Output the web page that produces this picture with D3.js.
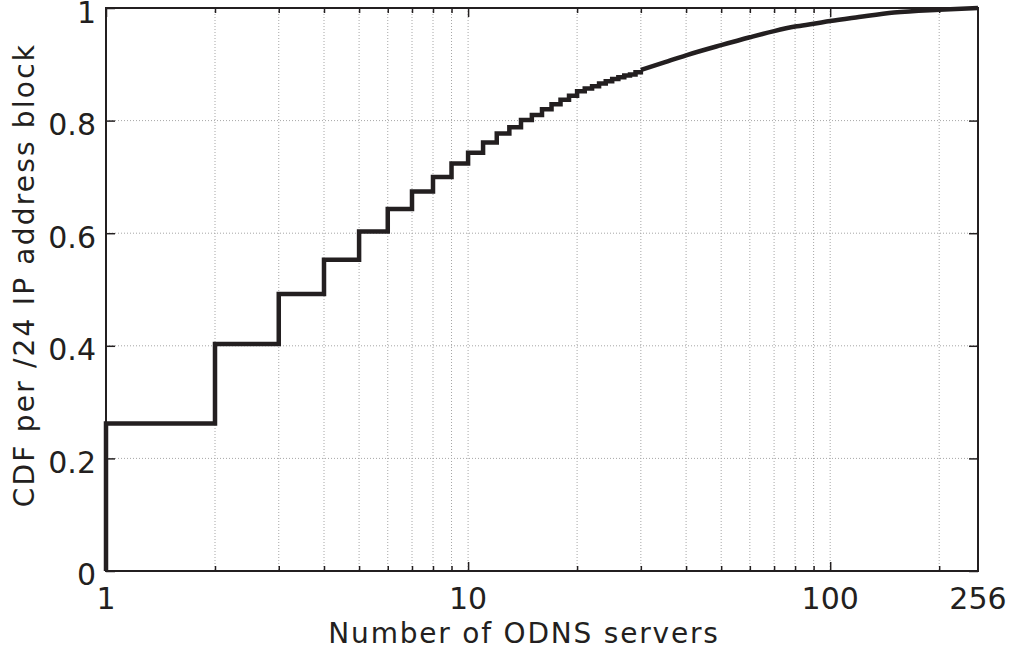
<!DOCTYPE html>
<html>
<head>
<meta charset="utf-8">
<script src="https://cdn.jsdelivr.net/npm/d3@7"></script>
<style>
  html, body { margin: 0; padding: 0; background: #fff; }
  svg { display: block; }
  text { font-family: "DejaVu Sans", sans-serif; fill: #231f20; }
</style>
</head>
<body>
<svg id="chart" width="1011" height="650"></svg>
<script>
// Empirical CDF of ODNS servers per /24 block: integer steps, then the dense tail
const stepServers = [1, 2, 3, 4, 5, 6, 7, 8, 9, 10, 11, 12, 13, 14, 15, 16, 17, 18, 19, 20,
                     21, 22, 23, 24, 25, 26, 27, 28, 29, 30];
const stepCdf = [0.262, 0.403, 0.492, 0.553, 0.603, 0.643, 0.674, 0.700, 0.724, 0.743,
                 0.761, 0.777, 0.788, 0.801, 0.810, 0.820, 0.829, 0.837, 0.844, 0.852,
                 0.857, 0.861, 0.866, 0.870, 0.874, 0.877, 0.880, 0.882, 0.886, 0.890];
const tailServers = [30, 35, 40, 50, 60, 70, 80, 90, 100, 120, 150, 200, 256];
const tailCdf = [0.890, 0.904, 0.916, 0.934, 0.948, 0.959, 0.967, 0.972, 0.977, 0.984, 0.992, 0.997, 1.0];

const xTickValues = [1, 10, 100, 256];
const xMinorValues = [2, 3, 4, 5, 6, 7, 8, 9, 20, 30, 40, 50, 60, 70, 80, 90, 200];
const yTickValues = [0, 0.2, 0.4, 0.6, 0.8, 1];
const yTickLabels = ["0", "0.2", "0.4", "0.6", "0.8", "1"];

const ink = "#231f20";
const svg = d3.select("#chart");
const plotL = 106, plotR = 978, plotT = 8, plotB = 571;
const w = plotR - plotL, h = plotB - plotT;

const x = d3.scaleLog().domain([1, 256]).range([plotL, plotR]);
const y = d3.scaleLinear().domain([0, 1]).range([plotB, plotT]);

// dotted grid
const gridX = [...xMinorValues, 10, 100];
svg.append("g").attr("class", "grid-x")
  .selectAll("line").data(gridX).join("line")
  .attr("x1", d => x(d)).attr("x2", d => x(d))
  .attr("y1", plotT).attr("y2", plotB)
  .attr("stroke", "#a6a6a6").attr("stroke-width", 1)
  .attr("stroke-dasharray", "1,2");
svg.append("g").attr("class", "grid-y")
  .selectAll("line").data(yTickValues.filter(d => d > 0 && d < 1)).join("line")
  .attr("x1", plotL).attr("x2", plotR)
  .attr("y1", d => y(d)).attr("y2", d => y(d))
  .attr("stroke", "#a6a6a6").attr("stroke-width", 1)
  .attr("stroke-dasharray", "1,2");

// inward ticks on all four sides
function styleAxis(g) {
  g.select(".domain").remove();
  g.selectAll(".tick line").attr("stroke", ink).attr("stroke-width", 1.5);
  g.selectAll("text").remove();
}
svg.append("g").attr("transform", `translate(0,${plotB})`)
  .call(d3.axisBottom(x).tickValues([1, 10, 100]).tickSize(-9)).call(styleAxis);
svg.append("g").attr("transform", `translate(0,${plotB})`)
  .call(d3.axisBottom(x).tickValues(xMinorValues).tickSize(-5)).call(styleAxis);
svg.append("g").attr("transform", `translate(0,${plotT})`)
  .call(d3.axisTop(x).tickValues([1, 10, 100]).tickSize(-9)).call(styleAxis);
svg.append("g").attr("transform", `translate(0,${plotT})`)
  .call(d3.axisTop(x).tickValues(xMinorValues).tickSize(-5)).call(styleAxis);
svg.append("g").attr("transform", `translate(${plotL},0)`)
  .call(d3.axisLeft(y).tickValues(yTickValues).tickSize(-9)).call(styleAxis);
svg.append("g").attr("transform", `translate(${plotR},0)`)
  .call(d3.axisRight(y).tickValues(yTickValues).tickSize(-9)).call(styleAxis);

// frame
svg.append("rect").attr("x", plotL).attr("y", plotT).attr("width", w).attr("height", h)
  .attr("fill", "none").attr("stroke", ink).attr("stroke-width", 2);

// CDF curve
const stepPts = [[1, 0]].concat(stepServers.map((s, i) => [s, stepCdf[i]]));
const tailPts = tailServers.map((s, i) => [s, tailCdf[i]]);
svg.append("path").datum(stepPts)
  .attr("d", d3.line().x(d => x(d[0])).y(d => y(d[1])).curve(d3.curveStepAfter))
  .attr("fill", "none").attr("stroke", ink).attr("stroke-width", 4.5)
  .attr("stroke-linejoin", "miter").attr("stroke-linecap", "butt");
svg.append("path").datum(tailPts)
  .attr("d", d3.line().x(d => x(d[0])).y(d => y(d[1])).curve(d3.curveMonotoneX))
  .attr("fill", "none").attr("stroke", ink).attr("stroke-width", 4.5)
  .attr("stroke-linecap", "butt");

// tick labels
svg.append("g").selectAll("text").data(xTickValues).join("text")
  .attr("x", d => x(d)).attr("y", 609)
  .attr("text-anchor", "middle").attr("font-size", 30)
  .text(d => String(d));
svg.append("g").selectAll("text").data(yTickValues).join("text")
  .attr("x", 96)
  .attr("y", (d, i) => i === yTickValues.length - 1 ? 23 : y(d) + (i === 0 ? 14 : 14.5))
  .attr("text-anchor", "end").attr("font-size", 30)
  .text((d, i) => yTickLabels[i]);

// axis titles
svg.append("text").attr("x", 524).attr("y", 643)
  .attr("text-anchor", "middle").attr("font-size", 28)
  .attr("letter-spacing", 1.8)
  .text("Number of ODNS servers");
svg.append("text")
  .attr("transform", "translate(34,275) rotate(-90)")
  .attr("text-anchor", "middle").attr("font-size", 28)
  .attr("letter-spacing", 2.2)
  .text("CDF per /24 IP address block");
</script>
</body>
</html>
